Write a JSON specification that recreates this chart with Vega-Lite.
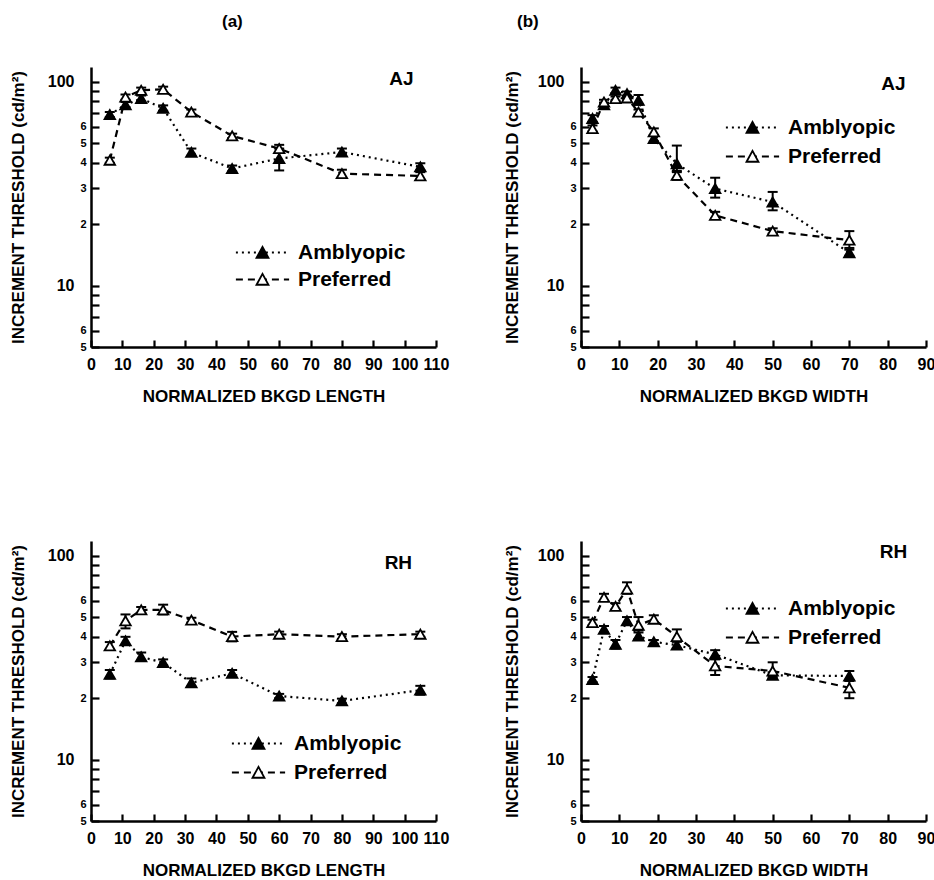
{
  "$schema": "https://vega.github.io/schema/vega-lite/v6.json",
  "background": "white",
  "padding": {"left": 9, "top": 13, "right": 5, "bottom": 5},
  "config": {
    "view": {"stroke": null},
    "font": "Liberation Sans",
    "axis": {"domainColor": "black", "domainWidth": 2.5, "tickColor": "black", "tickWidth": 2.2, "labelColor": "black", "labelFontWeight": "bold", "titleColor": "black", "titleFontWeight": "bold", "titleFontSize": 17, "grid": false, "labelOverlap": false, "labelFlush": false, "labelBound": false},
    "title": {"fontSize": 17, "fontWeight": "bold", "color": "black"},
    "legend": {"labelFontSize": 21, "labelFontWeight": "bold", "labelColor": "black", "symbolSize": 196, "symbolStrokeColor": "black", "symbolStrokeWidth": 1.8, "labelOffset": 25, "padding": 0}
  },
  "datasets": {
    "aL": [
      {"x": 6, "y": 69, "lo": 67, "hi": 71, "s": "Amblyopic"},
      {"x": 11, "y": 77, "lo": 75, "hi": 79.5, "s": "Amblyopic"},
      {"x": 16, "y": 82.6, "lo": 80, "hi": 85.5, "s": "Amblyopic"},
      {"x": 23, "y": 74, "lo": 72, "hi": 76.5, "s": "Amblyopic"},
      {"x": 32, "y": 45, "lo": 43.3, "hi": 47, "s": "Amblyopic"},
      {"x": 45, "y": 37.5, "lo": 36.3, "hi": 38.8, "s": "Amblyopic"},
      {"x": 60, "y": 42, "lo": 36.7, "hi": 47, "s": "Amblyopic"},
      {"x": 80, "y": 45.2, "lo": 43.5, "hi": 47, "s": "Amblyopic"},
      {"x": 105, "y": 38.2, "lo": 36.7, "hi": 39.8, "s": "Amblyopic"},
      {"x": 6, "y": 41.2, "lo": 40, "hi": 42.4, "s": "Preferred"},
      {"x": 11, "y": 84, "lo": 81.5, "hi": 86.5, "s": "Preferred"},
      {"x": 16, "y": 90.7, "lo": 88, "hi": 93.5, "s": "Preferred"},
      {"x": 23, "y": 91.7, "lo": 89, "hi": 94.5, "s": "Preferred"},
      {"x": 32, "y": 71, "lo": 69, "hi": 73, "s": "Preferred"},
      {"x": 45, "y": 54.2, "lo": 52.8, "hi": 55.6, "s": "Preferred"},
      {"x": 60, "y": 47, "lo": 45, "hi": 49, "s": "Preferred"},
      {"x": 80, "y": 35.4, "lo": 34, "hi": 37, "s": "Preferred"},
      {"x": 105, "y": 34.5, "lo": 33, "hi": 36, "s": "Preferred"}
    ],
    "aW": [
      {"x": 3, "y": 66, "lo": 63.5, "hi": 68.5, "s": "Amblyopic"},
      {"x": 6, "y": 77, "lo": 75, "hi": 79, "s": "Amblyopic"},
      {"x": 9, "y": 90.7, "lo": 88, "hi": 93.5, "s": "Amblyopic"},
      {"x": 12, "y": 87.3, "lo": 85, "hi": 89.5, "s": "Amblyopic"},
      {"x": 15, "y": 81, "lo": 77, "hi": 86, "s": "Amblyopic"},
      {"x": 19, "y": 52.6, "lo": 51, "hi": 54.5, "s": "Amblyopic"},
      {"x": 25, "y": 39.6, "lo": 36, "hi": 48.6, "s": "Amblyopic"},
      {"x": 35, "y": 29.9, "lo": 27, "hi": 33.8, "s": "Amblyopic"},
      {"x": 50, "y": 25.7, "lo": 23.4, "hi": 28.8, "s": "Amblyopic"},
      {"x": 70, "y": 14.5, "lo": 14, "hi": 15, "s": "Amblyopic"},
      {"x": 3, "y": 58.9, "lo": 57, "hi": 61, "s": "Preferred"},
      {"x": 6, "y": 79.5, "lo": 77.5, "hi": 81.5, "s": "Preferred"},
      {"x": 9, "y": 82.6, "lo": 80.5, "hi": 84.5, "s": "Preferred"},
      {"x": 12, "y": 83.2, "lo": 81, "hi": 85.5, "s": "Preferred"},
      {"x": 15, "y": 71, "lo": 69, "hi": 73, "s": "Preferred"},
      {"x": 19, "y": 56.7, "lo": 54.5, "hi": 59, "s": "Preferred"},
      {"x": 25, "y": 34.7, "lo": 33, "hi": 36.5, "s": "Preferred"},
      {"x": 35, "y": 22.1, "lo": 21.3, "hi": 23, "s": "Preferred"},
      {"x": 50, "y": 18.5, "lo": 18, "hi": 19.1, "s": "Preferred"},
      {"x": 70, "y": 16.7, "lo": 15.3, "hi": 18.5, "s": "Preferred"}
    ],
    "rL": [
      {"x": 6, "y": 26.2, "lo": 25, "hi": 27.5, "s": "Amblyopic"},
      {"x": 11, "y": 38.2, "lo": 36.5, "hi": 40, "s": "Amblyopic"},
      {"x": 16, "y": 31.9, "lo": 30.5, "hi": 33.5, "s": "Amblyopic"},
      {"x": 23, "y": 29.9, "lo": 29, "hi": 31, "s": "Amblyopic"},
      {"x": 32, "y": 23.8, "lo": 22.8, "hi": 25, "s": "Amblyopic"},
      {"x": 45, "y": 26.5, "lo": 25.5, "hi": 27.5, "s": "Amblyopic"},
      {"x": 60, "y": 20.5, "lo": 20, "hi": 21, "s": "Amblyopic"},
      {"x": 80, "y": 19.4, "lo": 18.9, "hi": 19.9, "s": "Amblyopic"},
      {"x": 105, "y": 21.9, "lo": 20.8, "hi": 23, "s": "Amblyopic"},
      {"x": 6, "y": 36.1, "lo": 34.5, "hi": 37.7, "s": "Preferred"},
      {"x": 11, "y": 47.9, "lo": 44, "hi": 51.5, "s": "Preferred"},
      {"x": 16, "y": 54.2, "lo": 52.5, "hi": 56, "s": "Preferred"},
      {"x": 23, "y": 54.2, "lo": 51.5, "hi": 57.5, "s": "Preferred"},
      {"x": 32, "y": 48.3, "lo": 47, "hi": 49.6, "s": "Preferred"},
      {"x": 45, "y": 40.1, "lo": 38, "hi": 42.3, "s": "Preferred"},
      {"x": 60, "y": 41.2, "lo": 40, "hi": 42.4, "s": "Preferred"},
      {"x": 80, "y": 40.1, "lo": 39, "hi": 41.2, "s": "Preferred"},
      {"x": 105, "y": 41.2, "lo": 40, "hi": 42.4, "s": "Preferred"}
    ],
    "rW": [
      {"x": 3, "y": 24.7, "lo": 24, "hi": 25.4, "s": "Amblyopic"},
      {"x": 6, "y": 43.6, "lo": 42, "hi": 45.2, "s": "Amblyopic"},
      {"x": 9, "y": 36.8, "lo": 35, "hi": 38.6, "s": "Amblyopic"},
      {"x": 12, "y": 47.9, "lo": 46, "hi": 50, "s": "Amblyopic"},
      {"x": 15, "y": 40.4, "lo": 39, "hi": 42, "s": "Amblyopic"},
      {"x": 19, "y": 37.8, "lo": 37, "hi": 38.6, "s": "Amblyopic"},
      {"x": 25, "y": 36.4, "lo": 35, "hi": 37.8, "s": "Amblyopic"},
      {"x": 35, "y": 32.8, "lo": 31.2, "hi": 34.4, "s": "Amblyopic"},
      {"x": 50, "y": 25.9, "lo": 25, "hi": 26.8, "s": "Amblyopic"},
      {"x": 70, "y": 25.7, "lo": 24.3, "hi": 27.2, "s": "Amblyopic"},
      {"x": 3, "y": 47, "lo": 45.5, "hi": 48.5, "s": "Preferred"},
      {"x": 6, "y": 62.4, "lo": 60, "hi": 65, "s": "Preferred"},
      {"x": 9, "y": 56.4, "lo": 54.5, "hi": 58.5, "s": "Preferred"},
      {"x": 12, "y": 68.6, "lo": 65, "hi": 74, "s": "Preferred"},
      {"x": 15, "y": 45.6, "lo": 43, "hi": 50, "s": "Preferred"},
      {"x": 19, "y": 48.8, "lo": 47, "hi": 51, "s": "Preferred"},
      {"x": 25, "y": 40.1, "lo": 38, "hi": 43.5, "s": "Preferred"},
      {"x": 35, "y": 28.8, "lo": 26, "hi": 31, "s": "Preferred"},
      {"x": 50, "y": 27.2, "lo": 25.5, "hi": 30, "s": "Preferred"},
      {"x": 70, "y": 22.5, "lo": 20, "hi": 24.5, "s": "Preferred"}
    ],
    "tAL": [{"x": 99, "y": 103, "t": "AJ"}],
    "tAW": [{"x": 81.5, "y": 97, "t": "AJ"}],
    "tRL": [{"x": 98, "y": 92, "t": "RH"}],
    "tRW": [{"x": 81.5, "y": 104, "t": "RH"}]
  },
  "columns": 2,
  "spacing": {"column": 54, "row": 137},
  "resolve": {"scale": {"fill": "independent", "strokeDash": "independent"}, "legend": {"fill": "independent", "strokeDash": "independent"}},
  "concat": [
    {
      "width": 345, "height": 280,
      "title": {"text": "(a)", "anchor": "start", "frame": "group", "dx": 131, "offset": 36},
      "data": {"name": "aL"},
      "encoding": {
        "x": {"field": "x", "type": "quantitative", "scale": {"domain": [0, 110], "nice": false, "zero": false}, "axis": {"title": "NORMALIZED BKGD LENGTH", "values": [0, 10, 20, 30, 40, 50, 60, 70, 80, 90, 100, 110], "tickSize": -7, "labelPadding": 16, "labelFontSize": 16, "titlePadding": 16}},
        "y": {"field": "y", "type": "quantitative", "scale": {"type": "log", "domain": [5, 118], "nice": false}, "axis": {"title": "INCREMENT  THRESHOLD (cd/m²)", "values": [5, 6, 7, 8, 9, 10, 20, 30, 40, 50, 60, 70, 80, 90, 100], "labelExpr": "datum.value == 100 ? '100' : datum.value == 10 ? '10' : (datum.value == 5 || datum.value == 6) ? format(datum.value, 'd') : (datum.value >= 20 && datum.value <= 60) ? format(datum.value / 10, 'd') : ''", "tickSize": -8, "labelPadding": {"condition": {"test": "datum.value == 100 || datum.value == 10", "value": 25}, "value": 13}, "labelFontSize": {"condition": {"test": "datum.value == 100 || datum.value == 10", "value": 16}, "value": 11}, "titlePadding": 20}}
      },
      "layer": [
        {"mark": {"type": "line", "strokeWidth": 2.2, "color": "black"}, "encoding": {"strokeDash": {"field": "s", "type": "nominal", "scale": {"domain": ["Preferred", "Amblyopic"], "range": [[7, 5], [2, 4]]}, "legend": {"orient": "none", "legendX": 161, "legendY": 175, "title": null, "rowPadding": 5, "values": ["Amblyopic", "Preferred"], "symbolType": "M-3.8,0H3.8", "symbolStrokeWidth": 2, "labelExpr": "' '"}}}},
        {"mark": {"type": "rule", "strokeWidth": 2, "color": "black"}, "encoding": {"y": {"field": "lo", "type": "quantitative", "scale": {"type": "log", "domain": [5, 118], "nice": false}, "title": "INCREMENT  THRESHOLD (cd/m²)"}, "y2": {"field": "hi"}}},
        {"mark": {"type": "tick", "orient": "horizontal", "size": 10, "thickness": 2, "color": "black", "opacity": 1}, "encoding": {"y": {"field": "lo", "type": "quantitative", "scale": {"type": "log", "domain": [5, 118], "nice": false}, "title": "INCREMENT  THRESHOLD (cd/m²)"}}},
        {"mark": {"type": "tick", "orient": "horizontal", "size": 10, "thickness": 2, "color": "black", "opacity": 1}, "encoding": {"y": {"field": "hi", "type": "quantitative", "scale": {"type": "log", "domain": [5, 118], "nice": false}, "title": "INCREMENT  THRESHOLD (cd/m²)"}}},
        {"mark": {"type": "point", "shape": "triangle-up", "filled": true, "stroke": "black", "strokeWidth": 1.8, "size": 110, "opacity": 1}, "encoding": {"fill": {"field": "s", "type": "nominal", "scale": {"domain": ["Amblyopic", "Preferred"], "range": ["black", "white"]}, "legend": {"orient": "none", "legendX": 161, "legendY": 175, "title": null, "rowPadding": 5, "symbolType": "M-0.85,0.75L0,-0.8L0.85,0.75Z"}}}},
        {"data": {"name": "tAL"}, "mark": {"type": "text", "fontSize": 19, "fontWeight": "bold", "color": "black"}, "encoding": {"text": {"field": "t"}}}
      ]
    },
    {
      "width": 345, "height": 280,
      "title": {"text": "(b)", "anchor": "start", "frame": "group", "dx": -64, "offset": 36},
      "data": {"name": "aW"},
      "encoding": {
        "x": {"field": "x", "type": "quantitative", "scale": {"domain": [0, 90], "nice": false, "zero": false}, "axis": {"title": "NORMALIZED BKGD WIDTH", "values": [0, 10, 20, 30, 40, 50, 60, 70, 80, 90], "tickSize": -7, "labelPadding": 16, "labelFontSize": 16, "titlePadding": 16}},
        "y": {"field": "y", "type": "quantitative", "scale": {"type": "log", "domain": [5, 118], "nice": false}, "axis": {"title": "INCREMENT  THRESHOLD (cd/m²)", "values": [5, 6, 7, 8, 9, 10, 20, 30, 40, 50, 60, 70, 80, 90, 100], "labelExpr": "datum.value == 100 ? '100' : datum.value == 10 ? '10' : (datum.value == 5 || datum.value == 6) ? format(datum.value, 'd') : (datum.value >= 20 && datum.value <= 60) ? format(datum.value / 10, 'd') : ''", "tickSize": -8, "labelPadding": {"condition": {"test": "datum.value == 100 || datum.value == 10", "value": 25}, "value": 13}, "labelFontSize": {"condition": {"test": "datum.value == 100 || datum.value == 10", "value": 16}, "value": 11}, "titlePadding": 16}}
      },
      "layer": [
        {"mark": {"type": "line", "strokeWidth": 2.2, "color": "black"}, "encoding": {"strokeDash": {"field": "s", "type": "nominal", "scale": {"domain": ["Preferred", "Amblyopic"], "range": [[7, 5], [2, 4]]}, "legend": {"orient": "none", "legendX": 161, "legendY": 50, "title": null, "rowPadding": 7, "values": ["Amblyopic", "Preferred"], "symbolType": "M-3.8,0H3.8", "symbolStrokeWidth": 2, "labelExpr": "' '"}}}},
        {"mark": {"type": "rule", "strokeWidth": 2, "color": "black"}, "encoding": {"y": {"field": "lo", "type": "quantitative", "scale": {"type": "log", "domain": [5, 118], "nice": false}, "title": "INCREMENT  THRESHOLD (cd/m²)"}, "y2": {"field": "hi"}}},
        {"mark": {"type": "tick", "orient": "horizontal", "size": 10, "thickness": 2, "color": "black", "opacity": 1}, "encoding": {"y": {"field": "lo", "type": "quantitative", "scale": {"type": "log", "domain": [5, 118], "nice": false}, "title": "INCREMENT  THRESHOLD (cd/m²)"}}},
        {"mark": {"type": "tick", "orient": "horizontal", "size": 10, "thickness": 2, "color": "black", "opacity": 1}, "encoding": {"y": {"field": "hi", "type": "quantitative", "scale": {"type": "log", "domain": [5, 118], "nice": false}, "title": "INCREMENT  THRESHOLD (cd/m²)"}}},
        {"mark": {"type": "point", "shape": "triangle-up", "filled": true, "stroke": "black", "strokeWidth": 1.8, "size": 110, "opacity": 1}, "encoding": {"fill": {"field": "s", "type": "nominal", "scale": {"domain": ["Amblyopic", "Preferred"], "range": ["black", "white"]}, "legend": {"orient": "none", "legendX": 161, "legendY": 50, "title": null, "rowPadding": 7, "symbolType": "M-0.85,0.75L0,-0.8L0.85,0.75Z"}}}},
        {"data": {"name": "tAW"}, "mark": {"type": "text", "fontSize": 19, "fontWeight": "bold", "color": "black"}, "encoding": {"text": {"field": "t"}}}
      ]
    },
    {
      "width": 345, "height": 280,
      "data": {"name": "rL"},
      "encoding": {
        "x": {"field": "x", "type": "quantitative", "scale": {"domain": [0, 110], "nice": false, "zero": false}, "axis": {"title": "NORMALIZED BKGD LENGTH", "values": [0, 10, 20, 30, 40, 50, 60, 70, 80, 90, 100, 110], "tickSize": -7, "labelPadding": 16, "labelFontSize": 16, "titlePadding": 16}},
        "y": {"field": "y", "type": "quantitative", "scale": {"type": "log", "domain": [5, 118], "nice": false}, "axis": {"title": "INCREMENT  THRESHOLD (cd/m²)", "values": [5, 6, 7, 8, 9, 10, 20, 30, 40, 50, 60, 70, 80, 90, 100], "labelExpr": "datum.value == 100 ? '100' : datum.value == 10 ? '10' : (datum.value == 5 || datum.value == 6) ? format(datum.value, 'd') : (datum.value >= 20 && datum.value <= 60) ? format(datum.value / 10, 'd') : ''", "tickSize": -8, "labelPadding": {"condition": {"test": "datum.value == 100 || datum.value == 10", "value": 25}, "value": 13}, "labelFontSize": {"condition": {"test": "datum.value == 100 || datum.value == 10", "value": 16}, "value": 11}, "titlePadding": 20}}
      },
      "layer": [
        {"mark": {"type": "line", "strokeWidth": 2.2, "color": "black"}, "encoding": {"strokeDash": {"field": "s", "type": "nominal", "scale": {"domain": ["Preferred", "Amblyopic"], "range": [[7, 5], [2, 4]]}, "legend": {"orient": "none", "legendX": 157, "legendY": 192, "title": null, "rowPadding": 7, "values": ["Amblyopic", "Preferred"], "symbolType": "M-3.8,0H3.8", "symbolStrokeWidth": 2, "labelExpr": "' '"}}}},
        {"mark": {"type": "rule", "strokeWidth": 2, "color": "black"}, "encoding": {"y": {"field": "lo", "type": "quantitative", "scale": {"type": "log", "domain": [5, 118], "nice": false}, "title": "INCREMENT  THRESHOLD (cd/m²)"}, "y2": {"field": "hi"}}},
        {"mark": {"type": "tick", "orient": "horizontal", "size": 10, "thickness": 2, "color": "black", "opacity": 1}, "encoding": {"y": {"field": "lo", "type": "quantitative", "scale": {"type": "log", "domain": [5, 118], "nice": false}, "title": "INCREMENT  THRESHOLD (cd/m²)"}}},
        {"mark": {"type": "tick", "orient": "horizontal", "size": 10, "thickness": 2, "color": "black", "opacity": 1}, "encoding": {"y": {"field": "hi", "type": "quantitative", "scale": {"type": "log", "domain": [5, 118], "nice": false}, "title": "INCREMENT  THRESHOLD (cd/m²)"}}},
        {"mark": {"type": "point", "shape": "triangle-up", "filled": true, "stroke": "black", "strokeWidth": 1.8, "size": 110, "opacity": 1}, "encoding": {"fill": {"field": "s", "type": "nominal", "scale": {"domain": ["Amblyopic", "Preferred"], "range": ["black", "white"]}, "legend": {"orient": "none", "legendX": 157, "legendY": 192, "title": null, "rowPadding": 7, "symbolType": "M-0.85,0.75L0,-0.8L0.85,0.75Z"}}}},
        {"data": {"name": "tRL"}, "mark": {"type": "text", "fontSize": 19, "fontWeight": "bold", "color": "black"}, "encoding": {"text": {"field": "t"}}}
      ]
    },
    {
      "width": 345, "height": 280,
      "data": {"name": "rW"},
      "encoding": {
        "x": {"field": "x", "type": "quantitative", "scale": {"domain": [0, 90], "nice": false, "zero": false}, "axis": {"title": "NORMALIZED BKGD WIDTH", "values": [0, 10, 20, 30, 40, 50, 60, 70, 80, 90], "tickSize": -7, "labelPadding": 16, "labelFontSize": 16, "titlePadding": 16}},
        "y": {"field": "y", "type": "quantitative", "scale": {"type": "log", "domain": [5, 118], "nice": false}, "axis": {"title": "INCREMENT  THRESHOLD (cd/m²)", "values": [5, 6, 7, 8, 9, 10, 20, 30, 40, 50, 60, 70, 80, 90, 100], "labelExpr": "datum.value == 100 ? '100' : datum.value == 10 ? '10' : (datum.value == 5 || datum.value == 6) ? format(datum.value, 'd') : (datum.value >= 20 && datum.value <= 60) ? format(datum.value / 10, 'd') : ''", "tickSize": -8, "labelPadding": {"condition": {"test": "datum.value == 100 || datum.value == 10", "value": 25}, "value": 13}, "labelFontSize": {"condition": {"test": "datum.value == 100 || datum.value == 10", "value": 16}, "value": 11}, "titlePadding": 16}}
      },
      "layer": [
        {"mark": {"type": "line", "strokeWidth": 2.2, "color": "black"}, "encoding": {"strokeDash": {"field": "s", "type": "nominal", "scale": {"domain": ["Preferred", "Amblyopic"], "range": [[7, 5], [2, 4]]}, "legend": {"orient": "none", "legendX": 161, "legendY": 57, "title": null, "rowPadding": 7, "values": ["Amblyopic", "Preferred"], "symbolType": "M-3.8,0H3.8", "symbolStrokeWidth": 2, "labelExpr": "' '"}}}},
        {"mark": {"type": "rule", "strokeWidth": 2, "color": "black"}, "encoding": {"y": {"field": "lo", "type": "quantitative", "scale": {"type": "log", "domain": [5, 118], "nice": false}, "title": "INCREMENT  THRESHOLD (cd/m²)"}, "y2": {"field": "hi"}}},
        {"mark": {"type": "tick", "orient": "horizontal", "size": 10, "thickness": 2, "color": "black", "opacity": 1}, "encoding": {"y": {"field": "lo", "type": "quantitative", "scale": {"type": "log", "domain": [5, 118], "nice": false}, "title": "INCREMENT  THRESHOLD (cd/m²)"}}},
        {"mark": {"type": "tick", "orient": "horizontal", "size": 10, "thickness": 2, "color": "black", "opacity": 1}, "encoding": {"y": {"field": "hi", "type": "quantitative", "scale": {"type": "log", "domain": [5, 118], "nice": false}, "title": "INCREMENT  THRESHOLD (cd/m²)"}}},
        {"mark": {"type": "point", "shape": "triangle-up", "filled": true, "stroke": "black", "strokeWidth": 1.8, "size": 110, "opacity": 1}, "encoding": {"fill": {"field": "s", "type": "nominal", "scale": {"domain": ["Amblyopic", "Preferred"], "range": ["black", "white"]}, "legend": {"orient": "none", "legendX": 161, "legendY": 57, "title": null, "rowPadding": 7, "symbolType": "M-0.85,0.75L0,-0.8L0.85,0.75Z"}}}},
        {"data": {"name": "tRW"}, "mark": {"type": "text", "fontSize": 19, "fontWeight": "bold", "color": "black"}, "encoding": {"text": {"field": "t"}}}
      ]
    }
  ]
}
